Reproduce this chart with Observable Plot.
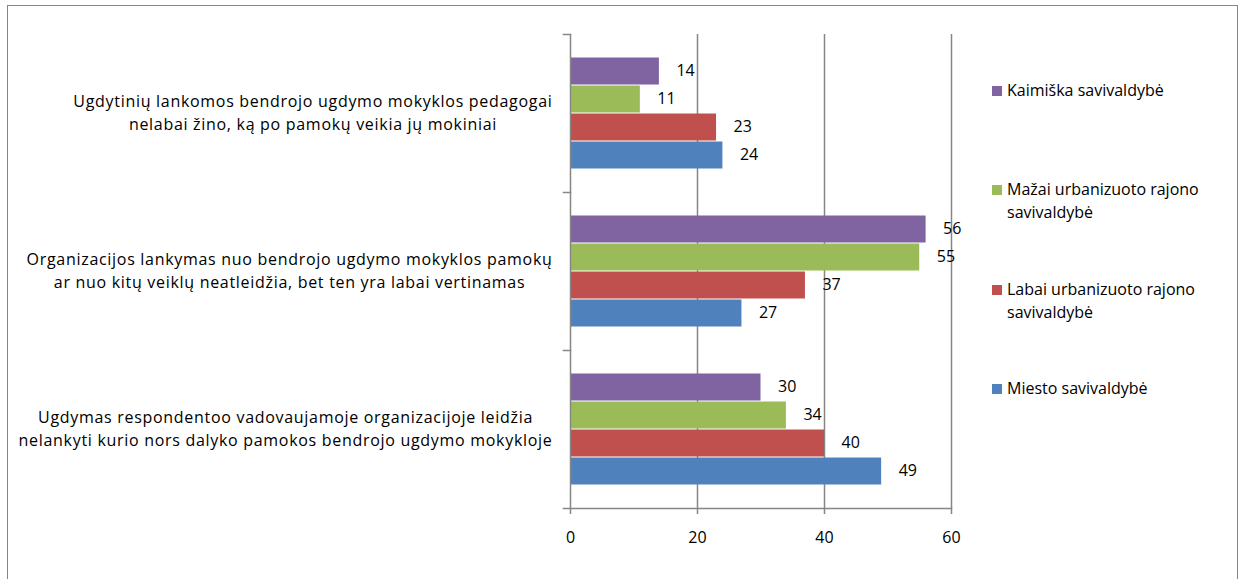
<!DOCTYPE html>
<html><head><meta charset="utf-8">
<script src="https://cdn.jsdelivr.net/npm/d3@7"></script>
<script src="https://cdn.jsdelivr.net/npm/@observablehq/plot@0.6"></script>
<style>
body{margin:0;background:#fff;font-family:"Open Sans",sans-serif;}
#wrap{position:relative;width:1245px;height:579px;overflow:hidden;background:#fff;}
#border{position:absolute;left:7px;top:5px;width:1231px;height:620px;border:1.5px solid #868686;box-sizing:border-box;}
#chart{position:absolute;left:0;top:0;}
.leg{position:absolute;left:992px;font-size:16px;line-height:22.5px;color:#000;}
.leg .sw{position:absolute;left:0;top:6px;width:10px;height:10px;}
.leg .lab{position:absolute;left:15px;top:-1px;width:240px;}
g.catlab text{letter-spacing:0.7px;}
</style>
</head><body>
<div id="wrap"><div id="border"></div><div id="chart"></div><div id="legend"></div></div>
<script>
const categories = [
  "Ugdytinių lankomos bendrojo ugdymo mokyklos pedagogai\nnelabai žino, ką po pamokų veikia jų mokiniai",
  "Organizacijos lankymas nuo bendrojo ugdymo mokyklos pamokų\nar nuo kitų veiklų neatleidžia, bet ten yra labai vertinamas",
  "Ugdymas respondentoo vadovaujamoje organizacijoje leidžia\nnelankyti kurio nors dalyko pamokos bendrojo ugdymo mokykloje"
];
const series = ["Kaimiška savivaldybė", "Mažai urbanizuoto rajono savivaldybė", "Labai urbanizuoto rajono savivaldybė", "Miesto savivaldybė"];
const legendLabels = ["Kaimiška savivaldybė", "Mažai urbanizuoto rajono<br>savivaldybė", "Labai urbanizuoto rajono<br>savivaldybė", "Miesto savivaldybė"];
const colors = ["#8064A2", "#9BBB59", "#C0504D", "#4F81BD"];
const kaimiska = [14, 56, 30];
const mazai = [11, 55, 34];
const labai = [23, 37, 40];
const miesto = [24, 27, 49];
const xTicks = [0, 20, 40, 60];

const seriesValues = [kaimiska, mazai, labai, miesto];
const rows = [];
categories.forEach((c, i) => series.forEach((s, j) => rows.push({cat: c, series: s, value: seriesValues[j][i]})));

const W = 1245, H = 579, mL = 570, mR = 294, mT = 33, mB = 70;
const plotW = W - mL - mR;
const catFont = 16, catSpacing = 0.7;
const canvas = document.createElement("canvas").getContext("2d");
canvas.font = `${catFont}px "Open Sans"`;
const maxWidth = t => d3.max(t.split("\n"), l => canvas.measureText(l).width + l.length * catSpacing);
const gray = "#868686";

const chart = Plot.plot({
  width: W, height: H,
  marginLeft: mL, marginRight: mR, marginTop: mT, marginBottom: mB,
  style: {fontFamily: "'Open Sans', sans-serif", fontSize: "16px", color: "#000", background: "transparent"},
  x: {domain: [0, 60], ticks: xTicks, label: null},
  fy: {domain: categories, padding: 0, axis: null},
  y: {domain: series, paddingInner: 0, paddingOuter: 0.735, axis: null},
  color: {domain: series, range: colors},
  marks: [
    Plot.gridX(xTicks.slice(1), {stroke: gray, strokeOpacity: 1, strokeWidth: 1.5}),
    Plot.barX(rows, {x: "value", y: "series", fy: "cat", fill: "series", insetTop: 0.5, insetBottom: 0.5}),
    Plot.text(rows, {x: "value", y: "series", fy: "cat", text: d => String(d.value), dx: 17, dy: -0.5, textAnchor: "start", fill: "#000", fontSize: 16}),
    Plot.ruleX([0], {stroke: gray, strokeWidth: 1.5}),
    Plot.frame({anchor: "top", insetLeft: -7, insetRight: plotW, stroke: gray, strokeWidth: 1.5}),
    Plot.frame({anchor: "bottom", insetLeft: -7, stroke: gray, strokeWidth: 1.5, facetAnchor: "bottom"}),
    Plot.axisX({ticks: xTicks, tickSize: 6, tickPadding: 17, stroke: gray, strokeWidth: 1.5, fill: "#000", fontSize: 16, label: null}),
    ...categories.map(c => Plot.text([c], {fy: d => d, text: d => d, frameAnchor: "left", textAnchor: "middle", dx: -(18 + maxWidth(c) / 2), dy: -2.5, lineHeight: 1.44, fill: "#000", fontSize: catFont, className: "catlab"}))
  ]
});
document.getElementById("chart").appendChild(chart);

const leg = document.getElementById("legend");
const legTops = [80, 179, 279, 378];
series.forEach((s, j) => {
  const d = document.createElement("div");
  d.className = "leg";
  d.style.top = legTops[j] + "px";
  d.innerHTML = `<div class="sw" style="background:${colors[j]}"></div><div class="lab">${legendLabels[j]}</div>`;
  leg.appendChild(d);
});
</script>
</body></html>
